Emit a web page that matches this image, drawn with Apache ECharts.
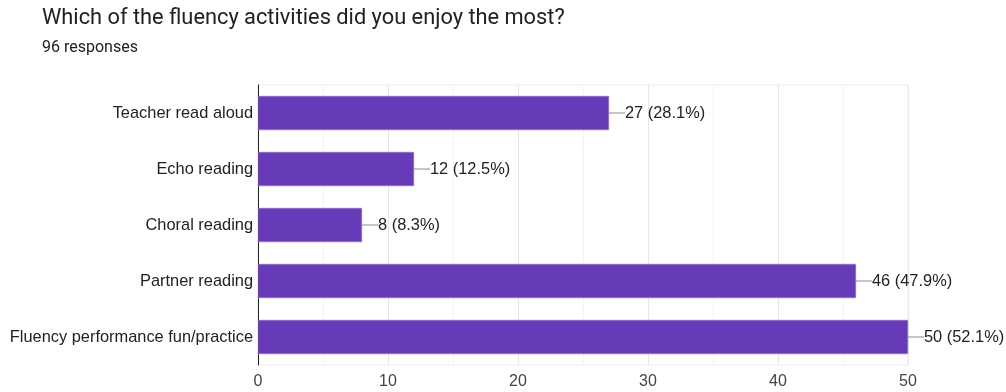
<!DOCTYPE html>
<html>
<head>
<meta charset="utf-8">
<script src="https://cdn.jsdelivr.net/npm/echarts@6/dist/echarts.min.js"></script>
<style>
html,body{margin:0;padding:0;background:#fff;}
#c{width:1006px;height:392px;}
</style>
</head>
<body>
<div id="c"></div>
<script>
const titleText = "Which of the fluency activities did you enjoy the most?";
const subtitleText = "96 responses";
const categories = ["Teacher read aloud", "Echo reading", "Choral reading", "Partner reading", "Fluency performance fun/practice"];
const counts = [27, 12, 8, 46, 50];
const percents = ["28.1%", "12.5%", "8.3%", "47.9%", "52.1%"];
const xTicks = [0, 10, 20, 30, 40, 50];

const chart = echarts.init(document.getElementById('c'));
chart.setOption({
  animation: false,
  backgroundColor: '#fff',
  title: {
    text: titleText,
    subtext: subtitleText,
    left: 37,
    top: 3,
    itemGap: 10,
    textStyle: {fontFamily: 'Roboto', fontSize: 21.8, fontWeight: 'normal', color: '#202124'},
    subtextStyle: {fontFamily: 'Roboto', fontSize: 16, color: '#202124'}
  },
  grid: {left: 258, right: 98, top: 85, bottom: 27, show: true, borderColor: '#ececec', borderWidth: 1},
  xAxis: {
    type: 'value',
    min: xTicks[0],
    max: xTicks[xTicks.length - 1],
    interval: 10,
    axisLine: {show: false},
    axisTick: {show: false},
    minorTick: {show: false, splitNumber: 2},
    minorSplitLine: {show: true, lineStyle: {color: '#f3f3f3'}},
    splitLine: {show: true, lineStyle: {color: '#e6e6e6'}},
    axisLabel: {fontFamily: 'Liberation Sans', fontSize: 16, color: '#444', margin: 9}
  },
  yAxis: {
    type: 'category',
    data: categories,
    inverse: true,
    axisLine: {show: true, lineStyle: {color: '#222', width: 1}},
    axisTick: {show: false},
    axisLabel: {fontFamily: 'Liberation Sans', fontSize: 16.4, color: '#222', margin: 5}
  },
  series: [{
    type: 'bar',
    data: counts,
    barCategoryGap: '39%',
    itemStyle: {color: '#673ab7', borderColor: '#9575cd', borderWidth: 0.5},
    label: {
      show: true,
      position: 'right',
      distance: 0,
      formatter: function (p) {
        return '{ln|}' + counts[p.dataIndex] + ' (' + percents[p.dataIndex] + ')';
      },
      fontFamily: 'Liberation Sans',
      fontSize: 16.4,
      color: '#222',
      rich: {
        ln: {width: 16, height: 1, backgroundColor: '#8a8a8a'}
      }
    }
  }]
});
</script>
</body>
</html>
